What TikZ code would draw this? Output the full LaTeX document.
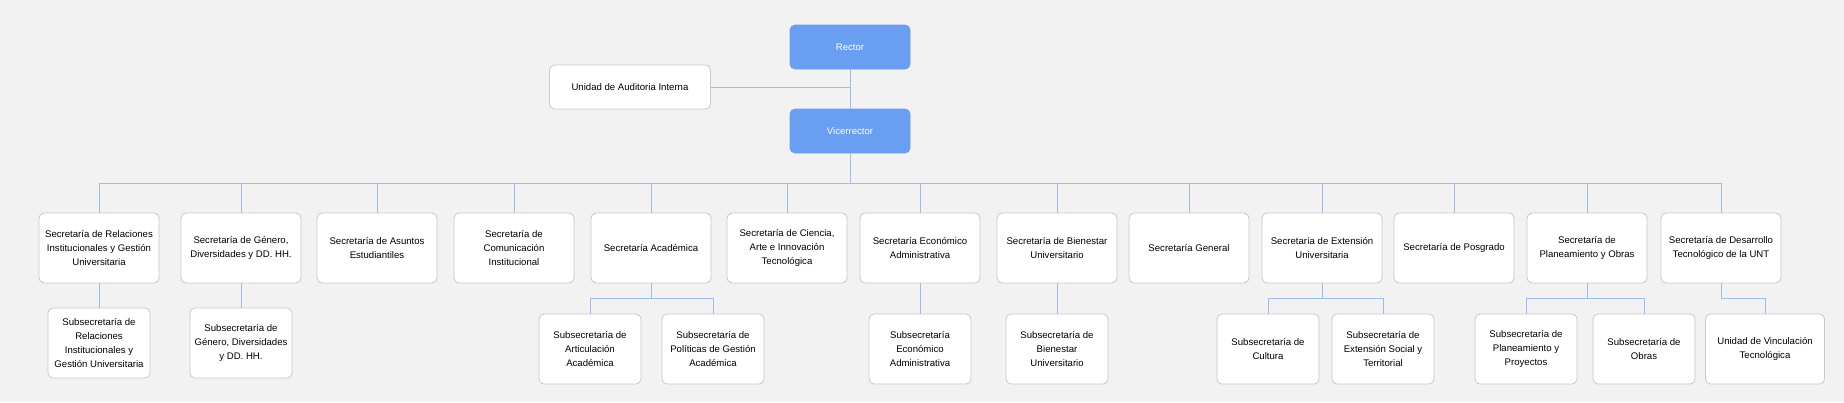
\documentclass[tikz,border=0pt]{standalone}
\usepackage{fontspec}
\setmainfont{Liberation Sans}
\definecolor{bgGray}{HTML}{F2F2F2}
\definecolor{headBlue}{HTML}{6A9EF0}
\definecolor{lineBlue}{HTML}{9BBDF3}
\definecolor{boxLine}{HTML}{C8C8C8}
\tikzset{
  unit/.style={rectangle, rounded corners=5pt, draw=boxLine, fill=white, line width=0.8pt,
    align=center, font=\fontsize{9.6}{14}\selectfont, minimum width=120pt, minimum height=70pt, inner sep=1pt},
  subunit/.style={unit, minimum width=102pt},
  head/.style={unit, draw=headBlue, fill=headBlue, text=white, minimum width=120pt, minimum height=44pt},
  link/.style={draw=lineBlue, line width=0.8pt}
}
\begin{document}
\begin{tikzpicture}[x=1pt,y=-1pt]
    \fill[bgGray] (0,0) rectangle (1844,402);

    \node[head] (rector) at (850,47) {Rector};
    \node[unit, minimum width=161pt, minimum height=44pt] (auditoria) at (630,87) {Unidad de Auditoria Interna};
    \node[head] (vice) at (850,131) {Vicerrector};

    \draw[link] (rector) -- (vice);
    \draw[link] (auditoria.east) -- (auditoria.east -| rector.south);

    % secretarias
    \node[unit] (relinst) at (99,248) {Secretaría de Relaciones\\Institucionales y Gestión\\Universitaria};
    \node[unit] (genero) at (241,248) {Secretaría de Género,\\Diversidades y DD. HH.};
    \node[unit] (asuntos) at (377,248) {Secretaría de Asuntos\\Estudiantiles};
    \node[unit] (comunic) at (514,248) {Secretaría de\\Comunicación\\Institucional};
    \node[unit] (academica) at (651,248) {Secretaría Académica};
    \node[unit] (ciencia) at (787,248) {Secretaría de Ciencia,\\Arte e Innovación\\Tecnológica};
    \node[unit] (econ) at (920,248) {Secretaría Económico\\Administrativa};
    \node[unit] (bienestar) at (1057,248) {Secretaría de Bienestar\\Universitario};
    \node[unit] (general) at (1189,248) {Secretaría General};
    \node[unit] (extension) at (1322,248) {Secretaría de Extensión\\Universitaria};
    \node[unit] (posgrado) at (1454,248) {Secretaría de Posgrado};
    \node[unit] (planea) at (1587,248) {Secretaría de\\Planeamiento y Obras};
    \node[unit] (desarrollo) at (1721,248) {Secretaría de Desarrollo\\Tecnológico de la UNT};

    \coordinate (bus) at (850,183);
    \draw[link] (vice) -- (bus);
    \foreach \s in {relinst,genero,asuntos,comunic,academica,ciencia,econ,bienestar,general,extension,posgrado,planea,desarrollo}
        \draw[link] (bus) -| (\s.north);

    % subsecretarias
    \node[subunit] (subrel) at (99,343) {Subsecretaría de\\Relaciones\\Institucionales y\\Gestión Universitaria};
    \node[subunit] (subgen) at (241,343) {Subsecretaría de\\Género, Diversidades\\y DD. HH.};
    \node[subunit] (subart) at (590,349) {Subsecretaría de\\Articulación\\Académica};
    \node[subunit] (subpol) at (713,349) {Subsecretaría de\\Políticas de Gestión\\Académica};
    \node[subunit] (subecon) at (920,349) {Subsecretaría\\Económico\\Administrativa};
    \node[subunit] (subbien) at (1057,349) {Subsecretaría de\\Bienestar\\Universitario};
    \node[subunit] (subcult) at (1268,349) {Subsecretaría de\\Cultura};
    \node[subunit] (subext) at (1383,349) {Subsecretaría de\\Extensión Social y\\Territorial};
    \node[subunit] (subplan) at (1526,349) {Subsecretaría de\\Planeamiento y\\Proyectos};
    \node[subunit] (subobras) at (1644,349) {Subsecretaría de\\Obras};
    \node[subunit, minimum width=119pt] (vinc) at (1765,349) {Unidad de Vinculación\\Tecnológica};

    \draw[link] (relinst) -- (subrel);
    \draw[link] (genero) -- (subgen);
    \draw[link] (econ) -- (subecon);
    \draw[link] (bienestar) -- (subbien);
    \foreach \p/\c in {academica/subart,academica/subpol,extension/subcult,extension/subext,planea/subplan,planea/subobras,desarrollo/vinc}
        \draw[link] (\p.south) -- ++(0,15) -| (\c.north);
\end{tikzpicture}
\end{document}
